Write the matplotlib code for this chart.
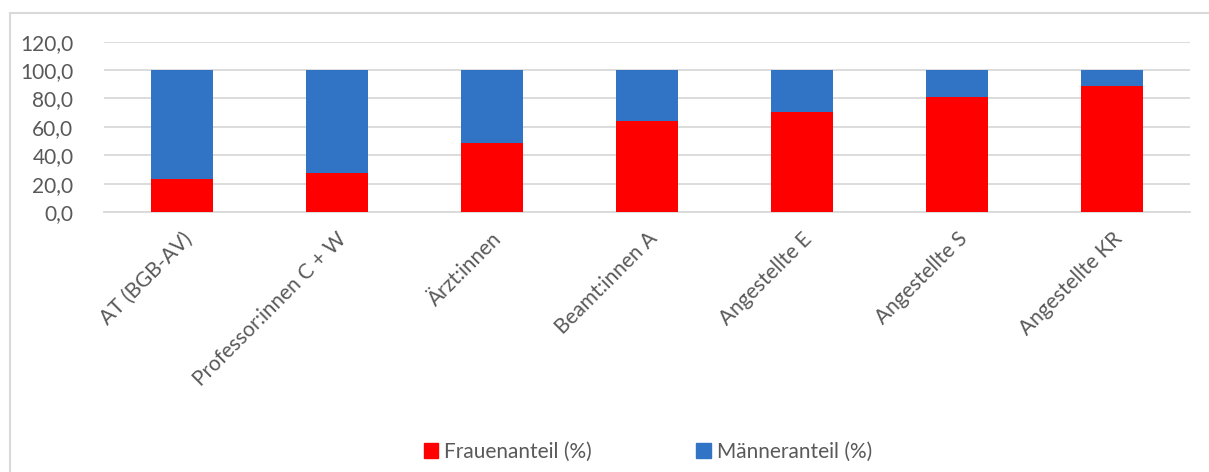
import matplotlib
matplotlib.use("Agg")
import matplotlib.pyplot as plt
from matplotlib.patches import Rectangle, Patch
from matplotlib.ticker import FuncFormatter

categories = ["AT (BGB-AV)", "Professor:innen C + W", "Ärzt:innen", "Beamt:innen A",
              "Angestellte E", "Angestellte S", "Angestellte KR"]
frauen = [23.0, 27.5, 48.7, 63.8, 70.8, 80.9, 88.7]
maenner = [100 - f for f in frauen]
yticks = [0, 20, 40, 60, 80, 100, 120]

W, H = 1209, 472
plt.rcParams['font.family'] = ['Lato', 'DejaVu Sans']
fig = plt.figure(figsize=(W / 100, H / 100), dpi=100)
ax = fig.add_axes([104 / W, 1 - 212 / H, (1190 - 104) / W, (212 - 41.7) / H])

x = list(range(len(categories)))
ax.bar(x, frauen, width=0.4, color="#FF0000", label="Frauenanteil (%)", zorder=3)
ax.bar(x, maenner, width=0.4, bottom=frauen, color="#3173C4", label="Männeranteil (%)", zorder=3)

ax.set_xlim(-0.5, len(categories) - 0.5)
ax.set_ylim(0, 120)
ax.set_yticks(yticks)
ax.yaxis.set_major_formatter(FuncFormatter(lambda v, p: f"{v:.1f}".replace(".", ",")))
ax.grid(axis="y", color="#D9D9D9", linewidth=1.3, zorder=0)
for s in ["top", "right", "left"]:
    ax.spines[s].set_visible(False)
ax.spines["bottom"].set_color("#D9D9D9")
ax.spines["bottom"].set_linewidth(1.3)
ax.tick_params(axis="both", length=0, labelsize=15, colors="#595959")
ax.tick_params(axis="y", pad=22)
ax.set_xticks(x)
ax.set_xticklabels(categories, rotation=45, ha="right", rotation_mode="anchor")
ax.tick_params(axis="x", pad=12)

handles = [Patch(color="#FF0000", label="Frauenanteil (%)"),
           Patch(color="#3173C4", label="Männeranteil (%)")]
fig.legend(handles=handles, loc="center", bbox_to_anchor=(648 / W, 1 - 452 / H), ncol=2,
           frameon=False, fontsize=15, labelcolor="#595959", handlelength=0.7,
           handleheight=0.7, handletextpad=0.3, columnspacing=5.0)

fig.patches.append(Rectangle((10 / W, -0.1), 1.2, 1 - 13 / H + 0.1, transform=fig.transFigure,
                             fill=False, edgecolor="#D9D9D9", linewidth=1.5))

fig.savefig("out.png", dpi=100, facecolor="white")
